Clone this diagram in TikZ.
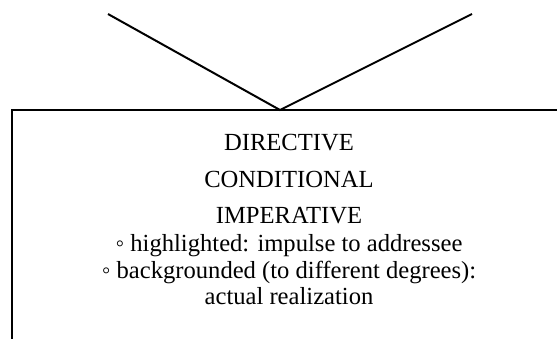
\documentclass[tikz,border=0pt]{standalone}
\usepackage{fontspec}
\setmainfont{Liberation Serif}
\usetikzlibrary{positioning}
\tikzset{
  moodline/.style={draw=black, line width=1pt},
  moodframe/.style={draw=black, line width=1pt},
  moodtext/.style={align=center, inner sep=0pt, anchor=north,
    font=\fontsize{12.3}{13.2}\selectfont}
}

\begin{document}
\begin{tikzpicture}[x=0.5pt, y=-0.5pt]
\useasboundingbox (0,0) rectangle (557,338);
\begin{scope}
\clip (0,0) rectangle (557,338);
\coordinate (lt) at (108,14);
\coordinate (rt) at (472,14);
\coordinate (apex) at (280,110);
\coordinate (corner) at (11.5,110);
\draw[moodline] (lt) -- (apex) -- (rt);
\draw[moodframe] (600,110) -- (corner) -- (11.5,400);
\node[moodtext] (mood) at (289,134) {DIRECTIVE\\[5pt]
  CONDITIONAL\\[5pt]
  IMPERATIVE\\[1pt]
  ◦ highlighted: impulse to addressee\\
  ◦ backgrounded (to different degrees):\\
  actual realization};
\end{scope}
\end{tikzpicture}
\end{document}
